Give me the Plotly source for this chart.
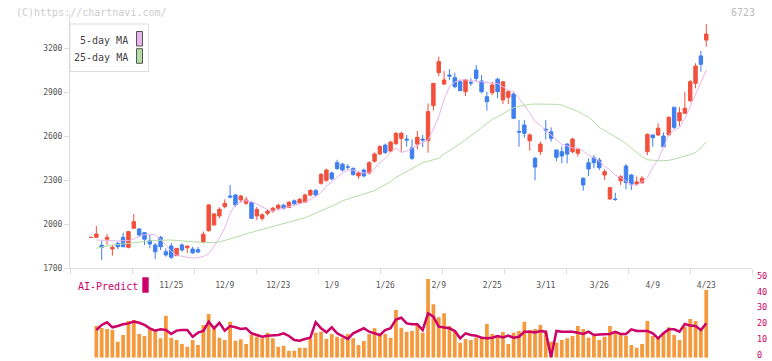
import plotly.graph_objects as go

# ---------------- data (trading-day index 0 = 2025-10-31 ... 115 = 2026-04-23)
tick_idx = [15, 25, 35, 45, 55, 65, 75, 85, 95, 105, 115]
tick_text = ["11/25", "12/9", "12/23", "1/9", "1/26", "2/9", "2/25", "3/11", "3/26", "4/9", "4/23"]

opens = [1910, 1911, 1857, 1898, 1832, 1870, 1911, 1843, 1973, 1968,
         1943, 1888, 1859, 1911, 1813, 1852, 1786, 1859, 1840, 1831,
         1827, 1881, 1956, 1995, 2057, 2120, 2193, 2200, 2166, 2143,
         2147, 2057, 2040, 2075, 2090, 2110, 2130, 2115, 2160, 2145,
         2150, 2200, 2230, 2280, 2300, 2350, 2420, 2410, 2391, 2380,
         2330, 2370, 2350, 2430, 2480, 2540, 2500, 2550, 2586, 2581,
         2522, 2547, 2581, 2570, 2809, 3034, 2956, 3018, 3000, 2972,
         2904, 2968, 3052, 2977, 2870, 2897, 2989, 2848, 2866, 2888,
         2633, 2677, 2570, 2450, 2495, 2649, 2631, 2507, 2495, 2547,
         2495, 2484, 2314, 2420, 2454, 2438, 2336, 2173, 2172, 2297,
         2397, 2336, 2275, 2284, 2495, 2609, 2609, 2602, 2609, 2798,
         2706, 2757, 2843, 2961, 3148, 3256]
highs = [1911, 1988, 1886, 1934, 1859, 1881, 1943, 1954, 2070, 1973,
         1947, 1927, 1872, 1920, 1836, 1872, 1838, 1870, 1852, 1847,
         1845, 1950, 2138, 2077, 2116, 2170, 2268, 2207, 2200, 2186,
         2152, 2118, 2075, 2100, 2120, 2140, 2140, 2160, 2170, 2180,
         2210, 2240, 2240, 2350, 2380, 2360, 2440, 2420, 2410, 2390,
         2360, 2380, 2430, 2490, 2540, 2550, 2570, 2630, 2631, 2609,
         2579, 2638, 2609, 2825, 2961, 3143, 3045, 3057, 3034, 2984,
         2989, 2995, 3086, 3018, 2904, 2972, 3000, 2972, 2916, 2904,
         2711, 2711, 2620, 2460, 2563, 2711, 2661, 2507, 2529, 2552,
         2590, 2518, 2320, 2450, 2472, 2454, 2375, 2250, 2215, 2336,
         2411, 2343, 2325, 2329, 2620, 2609, 2689, 2627, 2734, 2798,
         2798, 2904, 2984, 3098, 3182, 3366]
lows = [1910, 1911, 1757, 1859, 1786, 1832, 1845, 1836, 1973, 1915,
        1859, 1836, 1763, 1825, 1779, 1763, 1784, 1813, 1804, 1797,
        1804, 1870, 1950, 1995, 2041, 2109, 2177, 2120, 2147, 2132,
        2036, 2029, 2025, 2060, 2080, 2095, 2100, 2110, 2130, 2140,
        2145, 2190, 2190, 2270, 2290, 2300, 2370, 2360, 2370, 2330,
        2310, 2320, 2340, 2420, 2470, 2480, 2490, 2540, 2495, 2529,
        2438, 2511, 2527, 2488, 2775, 3011, 2950, 2984, 2927, 2909,
        2875, 2943, 2972, 2893, 2775, 2881, 2859, 2820, 2820, 2718,
        2529, 2590, 2502, 2300, 2473, 2579, 2563, 2430, 2416, 2416,
        2484, 2461, 2229, 2329, 2382, 2370, 2302, 2166, 2160, 2268,
        2239, 2234, 2263, 2275, 2472, 2529, 2602, 2529, 2609, 2648,
        2670, 2752, 2832, 2927, 3040, 3211]
closes = [1911, 1934, 1843, 1911, 1843, 1847, 1847, 1950, 2018, 1927,
          1898, 1866, 1813, 1847, 1791, 1775, 1836, 1825, 1852, 1806,
          1811, 1932, 2132, 2070, 2102, 2143, 2186, 2132, 2193, 2166,
          2041, 2102, 2065, 2090, 2110, 2130, 2110, 2150, 2140, 2170,
          2200, 2230, 2200, 2340, 2370, 2310, 2380, 2370, 2390, 2340,
          2350, 2330, 2420, 2480, 2530, 2490, 2560, 2620, 2620, 2575,
          2450, 2593, 2575, 2768, 2961, 3109, 2984, 3011, 2938, 2911,
          2984, 2963, 2995, 2904, 2836, 2950, 2904, 2972, 2904, 2723,
          2629, 2620, 2609, 2390, 2547, 2643, 2586, 2457, 2466, 2479,
          2581, 2511, 2268, 2377, 2420, 2386, 2359, 2250, 2169, 2325,
          2284, 2273, 2289, 2314, 2613, 2590, 2655, 2529, 2730, 2661,
          2761, 2791, 2972, 3079, 3091, 3297]

# moving averages as drawn (index 1 .. 115)
ma5 = [1893, 1890, 1888, 1886, 1886, 1888, 1888, 1900, 1917, 1930,
       1932, 1927, 1900, 1859, 1815, 1790, 1780, 1775, 1770, 1772,
       1780, 1800, 1850, 1907, 1975, 2075, 2132, 2154, 2161, 2155,
       2138, 2120, 2100, 2090, 2100, 2110, 2120, 2130, 2140, 2150,
       2170, 2190, 2220, 2260, 2290, 2320, 2350, 2370, 2370, 2360,
       2350, 2350, 2380, 2420, 2450, 2490, 2520, 2490, 2500, 2520,
       2540, 2560, 2575, 2650, 2734, 2850, 2938, 2970, 2985, 2985,
       2980, 2975, 2970, 2965, 2962, 2961, 2940, 2915, 2900, 2860,
       2810, 2760, 2700, 2677, 2640, 2609, 2580, 2545, 2534, 2520,
       2520, 2500, 2470, 2455, 2430, 2395, 2370, 2335, 2320, 2295,
       2270, 2268, 2290, 2320, 2390, 2440, 2530, 2610, 2640, 2660,
       2720, 2800, 2880, 2960, 3052]
ma25 = [1836, 1845, 1852, 1859, 1862, 1866, 1872, 1878, 1881, 1885,
        1888, 1890, 1891, 1893, 1893, 1890, 1886, 1883, 1880, 1878,
        1876, 1875, 1875, 1880, 1888, 1900, 1912, 1925, 1935, 1945,
        1955, 1962, 1970, 1980, 1990, 2000, 2010, 2020, 2030, 2045,
        2060, 2075, 2090, 2105, 2120, 2140, 2160, 2175, 2185, 2195,
        2205, 2215, 2230, 2250, 2270, 2290, 2320, 2340, 2360, 2380,
        2400, 2420, 2430, 2438, 2450, 2480, 2500, 2525, 2550, 2575,
        2600, 2630, 2660, 2690, 2715, 2734, 2755, 2775, 2795, 2805,
        2813, 2818, 2820, 2820, 2820, 2820, 2818, 2813, 2800, 2785,
        2770, 2750, 2730, 2700, 2660, 2640, 2620, 2595, 2575, 2550,
        2520, 2490, 2460, 2440, 2436, 2434, 2434, 2436, 2445, 2455,
        2462, 2475, 2490, 2520, 2563]

# lower panel (index 1 .. 115)
vol = [20.1, 18.9, 18.2, 17.6, 10.2, 14.4, 23.3, 24.0, 15.0, 13.8,
       18.2, 16.5, 12.3, 26.7, 12.7, 11.2, 8.7, 7.0, 11.2, 8.1,
       20.8, 27.8, 18.7, 12.7, 11.2, 22.9, 10.8, 11.7, 8.7, 14.4,
       13.3, 12.3, 15.9, 12.3, 7.0, 7.4, 4.4, 4.4, 6.4, 6.4,
       11.9, 15.9, 16.5, 11.9, 15.1, 13.3, 12.3, 15.1, 12.3, 8.1,
       10.6, 15.1, 18.7, 15.1, 15.1, 12.7, 30.3, 19.1, 16.5, 17.0,
       20.8, 15.9, 50.0, 33.9, 25.7, 28.2, 20.1, 17.2, 9.5, 11.9,
       11.2, 12.9, 12.3, 21.4, 15.1, 14.4, 16.3, 8.7, 15.9, 17.0,
       22.9, 17.6, 18.2, 20.8, 17.0, 10.1, 9.5, 11.2, 12.3, 13.8,
       20.1, 18.2, 12.7, 13.8, 11.2, 13.3, 20.1, 15.9, 15.5, 14.0,
       8.1, 6.4, 8.7, 23.3, 13.8, 12.7, 15.9, 19.3, 14.4, 11.2,
       19.7, 24.6, 23.3, 18.0, 43.0]
ai = [17.6, 20.8, 22.5, 19.3, 20.1, 21.2, 21.8, 22.9, 22.2, 20.8,
      18.7, 17.2, 18.0, 17.6, 15.1, 17.2, 17.6, 17.6, 13.3, 15.9,
      17.0, 22.9, 18.7, 22.2, 17.2, 20.1, 19.3, 18.2, 18.7, 15.5,
      14.4, 13.3, 14.0, 14.4, 14.4, 15.5, 13.8, 11.2, 10.8, 11.9,
      12.7, 22.6, 18.7, 16.1, 19.3, 15.5, 13.8, 11.9, 15.5, 17.0,
      18.7, 16.5, 15.5, 14.4, 17.6, 18.7, 24.3, 25.4, 21.8, 21.2,
      21.2, 17.6, 28.2, 26.1, 19.7, 19.3, 18.7, 17.0, 12.3, 15.5,
      14.4, 14.0, 12.7, 12.3, 12.7, 13.8, 12.9, 14.0, 12.7, 13.3,
      16.5, 16.5, 16.1, 17.0, 16.5, 0.3, 17.0, 16.5, 16.5, 16.5,
      15.9, 15.1, 16.5, 14.4, 14.8, 15.1, 15.1, 16.5, 15.1, 15.1,
      18.0, 17.0, 17.0, 17.0, 15.5, 12.3, 15.5, 18.0, 18.0, 16.5,
      21.4, 20.4, 20.1, 17.6, 21.8]

days = list(range(len(closes)))
sub_days = days[1:]

# ---------------- figure
W, H = 772, 361
mono = "DejaVu Sans Mono"
RED, BLUE = "#f2503c", "#3f7ff0"
PINK, GREEN = "#e8b4ec", "#b4dca4"
CRIMSON, ORANGE = "#cc0066", "#f5993d"
AXC = "#dddddd"

fig = go.Figure()
fig.add_trace(go.Candlestick(
    x=days, open=opens, high=highs, low=lows, close=closes,
    increasing=dict(line=dict(color=RED, width=1), fillcolor=RED),
    decreasing=dict(line=dict(color=BLUE, width=1), fillcolor=BLUE),
    whiskerwidth=0, showlegend=False, hoverinfo="skip"))
fig.add_trace(go.Scatter(x=sub_days, y=ma5, mode="lines",
                         line=dict(color=PINK, width=1), showlegend=False))
fig.add_trace(go.Scatter(x=sub_days, y=ma25, mode="lines",
                         line=dict(color=GREEN, width=1), showlegend=False))
fig.add_trace(go.Bar(x=sub_days, y=vol, width=0.7, marker=dict(color=ORANGE, line=dict(width=0)),
                     xaxis="x2", yaxis="y2", showlegend=False))
fig.add_trace(go.Scatter(x=sub_days, y=ai, mode="lines", line=dict(color=CRIMSON, width=2.5),
                         xaxis="x2", yaxis="y2", showlegend=False))

px0, px1 = 70, 752
step = 5.35
x_first = 91
xr = [(px0 - x_first) / step, (px1 - x_first) / step]

def fy(py):
    return (H - py) / H

fig.update_layout(
    width=W, height=H, margin=dict(l=0, r=0, t=0, b=0, autoexpand=False),
    paper_bgcolor="white", plot_bgcolor="white",
    boxgap=0.08,
    xaxis=dict(domain=[px0 / W, px1 / W], range=xr, anchor="y", automargin=False,
               showline=True, linecolor=AXC, linewidth=1, showgrid=False, zeroline=False,
               tickmode="array", tickvals=tick_idx, ticktext=tick_text, ticks="",
               ticklabelstandoff=9,
               tickfont=dict(family=mono, size=8, color="#555555"),
               minor=dict(tick0=xr[0], dtick=(62 / step), ticks="outside", ticklen=5,
                          tickcolor=AXC, tickwidth=1, showgrid=False),
               rangeslider=dict(visible=False)),
    yaxis=dict(domain=[fy(268.3), fy(14)], range=[1700, 1700 + (268.3 - 14) * 300 / 44],
               anchor="x", automargin=False, showline=True, linecolor=AXC, linewidth=1,
               showgrid=False, zeroline=False,
               tickmode="array", tickvals=[1700, 2000, 2300, 2600, 2900, 3200],
               ticks="outside", ticklen=5, tickcolor=AXC,
               tickfont=dict(family=mono, size=8, color="#555555")),
    xaxis2=dict(domain=[px0 / W, px1 / W], range=xr, anchor="y2", visible=False,
                automargin=False),
    yaxis2=dict(domain=[fy(357.7), fy(279)], range=[0, 50], anchor="x2", side="right",
                automargin=False, showline=False, showgrid=False, zeroline=False, ticks="",
                tickmode="array", tickvals=[0, 10, 20, 30, 40, 50],
                ticklabelstandoff=4, ticklabeloverflow="allow", ticklabelshift=-3,
                tickfont=dict(family=mono, size=8.5, color=CRIMSON)),
)

ann = []
ann.append(dict(text="(C)https://chartnavi.com/", x=14 / W, y=fy(12.7), xref="paper", yref="paper",
                xanchor="left", yanchor="middle", showarrow=False,
                font=dict(family=mono, size=10, color="#cccccc")))
ann.append(dict(text="6723", x=757 / W, y=fy(12.5), xref="paper", yref="paper",
                xanchor="right", yanchor="middle", showarrow=False,
                font=dict(family=mono, size=10, color="#bbbbbb")))
ann.append(dict(text="5-day MA", x=130 / W, y=fy(40.5), xref="paper", yref="paper",
                xanchor="right", yanchor="middle", showarrow=False,
                font=dict(family=mono, size=10, color="#444444")))
ann.append(dict(text="25-day MA", x=130 / W, y=fy(57), xref="paper", yref="paper",
                xanchor="right", yanchor="middle", showarrow=False,
                font=dict(family=mono, size=10, color="#444444")))
ann.append(dict(text="AI-Predict", x=76 / W, y=fy(286), xref="paper", yref="paper",
                xanchor="left", yanchor="middle", showarrow=False,
                font=dict(family=mono, size=10, color=CRIMSON)))

shp = []
shp.append(dict(type="rect", xref="paper", yref="paper", x0=70 / W, x1=148.5 / W,
                y0=fy(71.5), y1=fy(24), line=dict(color="#dddddd", width=1), fillcolor="white"))
shp.append(dict(type="rect", xref="paper", yref="paper", x0=136.5 / W, x1=142.5 / W,
                y0=fy(46), y1=fy(31.5), line=dict(color="#555555", width=1), fillcolor=PINK))
shp.append(dict(type="rect", xref="paper", yref="paper", x0=136.5 / W, x1=142.5 / W,
                y0=fy(63.3), y1=fy(48.7), line=dict(color="#555555", width=1), fillcolor=GREEN))
shp.append(dict(type="rect", xref="paper", yref="paper", x0=142.3 / W, x1=148.7 / W,
                y0=fy(292.7), y1=fy(277.3), line=dict(width=0), fillcolor=CRIMSON))
fig.update_layout(annotations=ann, shapes=shp)

fig.write_html("out.html", config={"displayModeBar": False, "staticPlot": True},
               post_script="document.body.style.margin='0px';document.body.style.overflow='hidden';")
